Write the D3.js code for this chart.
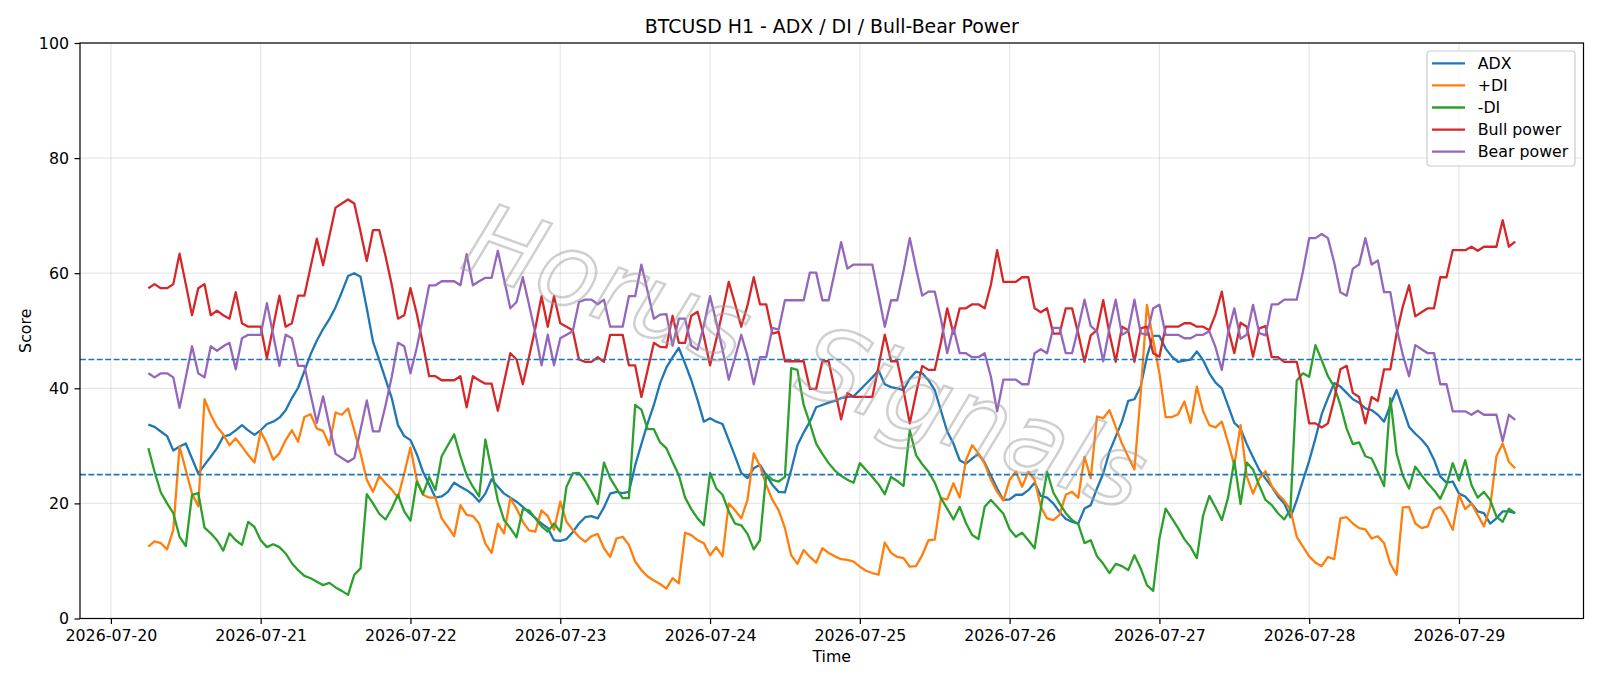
<!DOCTYPE html>
<html><head><meta charset="utf-8">
<script src="https://cdn.jsdelivr.net/npm/d3@7"></script>
<style>
body{margin:0;background:#fff;}
svg{display:block;font-family:"DejaVu Sans",sans-serif;}
</style></head><body>
<svg id="c" width="1600" height="686"></svg>
<script>
const startTime = "2026-07-20T06:00:00Z";
const endTime = "2026-07-29T09:00:00Z";
const title = "BTCUSD H1 - ADX / DI / Bull-Bear Power";
const xLabel = "Time";
const yLabel = "Score";
const watermarkText = "Horus Signals";
const seriesNames = ["ADX", "+DI", "-DI", "Bull power", "Bear power"];
const seriesColors = ["#1f77b4", "#ff7f0e", "#2ca02c", "#d62728", "#9467bd"];
const yTicks = [0, 20, 40, 60, 80, 100];
const refLevels = [45, 25];

const adx = [33.7,33.3,32.5,31.7,29.2,29.9,30.4,27.8,25.2,26.7,28.1,29.6,31.6,31.9,32.7,33.6,32.7,31.9,32.7,33.8,
34.2,34.9,36.2,38.3,40.1,43.0,45.9,48.3,50.3,52.0,54.1,56.7,59.5,60.0,59.4,53.9,48.1,44.9,41.6,38.3,
33.6,31.7,31.0,28.6,25.5,23.3,21.0,21.2,22.0,23.6,22.9,22.3,21.5,20.3,21.7,24.2,22.9,21.7,21.0,20.3,
19.4,18.4,17.5,16.5,15.7,13.6,13.5,13.8,15.0,16.5,17.6,17.8,17.4,19.3,21.7,22.0,21.8,22.0,26.6,30.3,
33.9,37.1,40.9,43.6,45.4,47.0,44.3,41.4,38.0,34.2,34.8,34.2,33.8,31.0,28.2,25.3,24.4,26.1,26.7,24.9,
23.2,22.0,21.9,25.8,30.1,32.3,34.2,36.7,37.1,37.5,37.8,38.3,38.5,38.6,39.7,40.8,41.9,43.1,40.7,40.2,
40.0,39.7,41.7,42.9,42.6,41.4,39.7,36.1,32.5,30.4,27.5,26.9,27.8,28.6,27.1,24.8,22.6,20.6,20.7,21.5,
21.5,22.3,23.6,21.3,21.0,20.0,18.5,17.3,16.8,16.5,19.1,19.7,22.6,25.2,29.0,31.6,34.2,37.8,38.1,40.3,
45.5,49.1,49.1,46.9,45.5,44.6,44.8,45.0,46.4,44.9,42.6,41.0,40.0,37.0,34.0,33.0,30.3,28.0,25.8,24.3,
22.9,21.2,20.0,17.6,20.5,24.0,27.4,31.3,35.5,38.3,40.9,40.3,39.2,38.1,37.5,36.5,36.2,35.4,34.2,37.1,
39.7,36.5,33.3,32.1,31.1,29.8,27.6,24.7,23.6,23.8,21.7,21.2,20.0,18.6,18.3,16.5,17.4,18.6,18.6,18.3];

const plusDI = [12.5,13.4,13.1,12.0,15.4,29.9,25.8,21.7,19.5,38.1,35.4,33.3,32.0,30.1,31.3,29.9,28.4,27.1,32.5,30.4,
27.6,28.7,31.0,32.7,30.7,35.0,35.5,33.0,32.6,30.1,35.8,35.4,36.5,32.7,28.7,24.1,22.0,24.8,23.5,22.4,
21.0,25.2,29.7,24.1,21.5,21.0,21.0,17.4,15.9,14.3,19.7,18.0,17.8,16.5,13.0,11.4,16.5,14.8,20.9,19.1,
16.8,15.3,15.1,18.8,17.8,15.4,20.3,16.8,15.4,14.2,13.3,14.3,14.7,12.2,10.7,13.9,14.2,12.8,9.9,8.4,
7.3,6.6,6.0,5.2,7.0,6.1,14.9,14.5,13.6,13.1,11.0,12.4,10.8,20.0,18.8,17.4,20.6,28.7,26.5,23.2,
20.6,18.8,15.7,11.0,9.5,11.9,10.7,9.7,12.2,11.4,10.8,10.3,10.2,9.9,9.0,8.3,7.9,7.6,13.2,11.4,
10.7,10.5,9.0,9.1,11.0,13.6,13.7,20.9,20.7,23.5,21.0,27.5,30.1,28.7,26.9,24.1,22.0,20.5,24.1,25.5,
22.9,25.5,24.1,19.4,17.4,17.1,18.0,21.5,22.0,21.0,28.1,24.4,35.1,34.8,36.2,33.3,30.4,28.1,25.9,39.1,
54.5,48.4,42.6,35.0,35.0,35.5,37.7,34.0,40.3,36.0,33.6,33.2,34.2,30.6,26.6,33.6,24.7,21.7,24.3,25.6,
23.0,21.6,20.5,18.9,14.2,12.5,10.8,9.7,9.1,10.7,10.3,17.4,17.6,16.5,15.7,15.5,13.9,14.3,13.1,9.5,
7.6,19.3,19.4,16.5,15.7,16.0,18.9,19.4,17.7,15.4,21.5,19.0,20.0,18.0,16.0,19.4,28.2,30.4,27.2,26.1];

const minusDI = [29.6,25.5,21.9,20.0,18.3,14.2,12.6,21.5,21.8,15.8,14.8,13.6,11.8,14.8,13.6,12.8,16.8,15.9,13.6,12.4,
12.9,12.4,11.3,9.6,8.4,7.4,7.0,6.4,5.8,6.2,5.4,4.8,4.1,7.6,8.7,21.6,20.0,18.2,17.2,19.1,
21.5,18.6,17.0,23.8,21.6,24.6,22.3,28.2,30.1,32.0,28.2,24.9,22.9,21.2,31.1,25.8,20.5,17.1,15.7,14.1,
19.0,18.8,17.4,16.0,15.1,16.5,15.1,22.9,25.2,25.3,23.9,22.0,19.9,27.1,24.4,22.6,20.9,20.9,37.1,36.3,
32.9,32.9,30.6,29.6,27.2,24.9,21.0,19.0,17.4,16.2,25.3,22.6,21.5,18.6,16.5,16.2,14.7,12.0,13.6,25.1,
24.1,23.8,24.6,43.5,43.2,37.1,33.9,30.4,28.6,27.0,25.7,24.8,24.1,23.6,27.0,25.8,24.6,23.3,21.6,24.6,
23.9,23.0,32.7,28.4,26.8,25.5,23.6,20.9,19.1,17.2,19.4,16.6,14.5,13.8,19.4,20.6,19.4,18.2,15.5,14.2,
14.9,13.6,12.2,19.1,25.5,21.9,20.0,18.3,17.1,16.4,13.1,13.6,10.8,9.5,7.9,9.5,9.1,8.4,11.0,8.7,
5.8,4.8,13.9,19.1,17.4,15.7,13.8,12.4,10.5,17.9,21.3,19.3,17.1,21.0,27.4,19.9,27.1,25.9,23.1,20.6,
19.7,18.3,17.2,19.0,41.3,42.6,42.0,47.5,44.9,42.1,40.3,37.1,33.0,30.3,30.6,28.2,27.8,25.5,23.0,38.3,
28.7,24.8,22.6,26.4,24.9,23.5,22.3,20.8,23.2,27.0,24.0,27.5,23.2,21.0,22.0,20.6,17.7,16.8,19.1,18.3];

const bullPower = [57.4,58.1,57.4,57.4,58.1,63.4,58.1,52.7,57.4,58.1,52.7,53.5,52.7,52.1,56.7,51.3,50.7,50.7,50.7,45.2,
50.7,56.1,50.7,51.3,56.1,56.1,61.1,66.0,61.4,66.4,71.4,72.1,72.8,72.1,67.2,62.1,67.5,67.5,63.0,58.0,
52.1,52.7,57.4,53.0,47.7,42.1,42.1,41.4,41.4,41.4,42.1,36.7,42.1,41.4,40.8,40.8,36.1,41.1,46.1,45.0,
40.7,45.5,50.4,56.0,50.7,56.0,51.3,50.7,50.1,45.0,44.6,44.6,45.4,44.6,49.3,49.3,49.3,44.0,44.0,38.5,
43.2,47.9,47.2,47.1,52.6,47.9,47.9,52.6,53.3,49.1,44.0,48.5,53.3,58.5,54.7,50.7,54.4,59.3,54.6,54.6,
49.5,49.8,44.7,44.7,44.7,44.7,39.9,39.9,44.7,44.7,39.7,34.6,39.2,38.5,38.5,38.5,38.5,43.8,49.3,44.7,
44.7,39.6,33.9,39.1,43.9,43.2,43.2,48.0,53.9,49.5,53.9,53.9,54.6,54.6,53.9,58.0,64.0,58.5,58.5,58.5,
59.3,59.3,53.9,53.2,53.9,49.5,49.5,53.9,53.9,49.5,44.6,49.2,50.1,55.3,49.5,44.6,50.7,50.1,44.6,50.4,
50.7,46.1,45.5,50.7,50.7,50.7,51.3,51.3,50.7,50.7,50.1,52.9,56.8,50.4,46.1,51.4,50.7,45.5,50.4,50.8,
45.4,45.4,44.6,44.6,44.6,39.7,33.9,33.9,33.2,33.9,38.1,43.3,43.9,39.2,38.5,33.9,38.5,37.8,43.3,43.3,
49.5,54.2,57.9,52.5,53.2,53.9,53.9,59.3,59.3,64.0,64.0,64.0,64.6,63.9,64.6,64.6,64.6,69.2,64.6,65.5];

const bearPower = [42.6,41.9,42.6,42.6,41.9,36.6,41.9,47.3,42.6,41.9,47.3,46.5,47.3,47.9,43.3,48.7,49.3,49.3,49.3,54.8,
49.3,43.9,49.3,48.7,43.9,43.9,38.9,34.0,38.6,33.6,28.6,27.9,27.2,27.9,32.8,37.9,32.5,32.5,37.0,42.0,
47.9,47.3,42.6,47.0,52.3,57.9,57.9,58.6,58.6,58.6,57.9,63.3,57.9,58.6,59.2,59.2,63.9,58.9,53.9,55.0,
59.3,54.5,49.6,44.0,49.3,44.0,48.7,49.3,49.9,55.0,55.4,55.4,54.6,55.4,50.7,50.7,50.7,56.0,56.0,61.5,
56.8,52.1,52.8,52.9,47.4,52.1,52.1,47.4,46.7,50.9,56.0,51.5,46.7,41.5,45.3,49.3,45.6,40.7,45.4,45.4,
50.5,50.2,55.3,55.3,55.3,55.3,60.1,60.1,55.3,55.3,60.3,65.4,60.8,61.5,61.5,61.5,61.5,56.2,50.7,55.3,
55.3,60.4,66.1,60.9,56.1,56.8,56.8,52.0,46.1,50.5,46.1,46.1,45.4,45.4,46.1,42.0,36.0,41.5,41.5,41.5,
40.7,40.7,46.1,46.8,46.1,50.5,50.5,46.1,46.1,50.5,55.4,50.8,49.9,44.7,50.5,55.4,49.3,49.9,55.4,49.6,
49.3,53.9,54.5,49.3,49.3,49.3,48.7,48.7,49.3,49.3,49.9,47.1,43.2,49.6,53.9,48.6,49.3,54.5,49.6,49.2,
54.6,54.6,55.4,55.4,55.4,60.3,66.1,66.1,66.8,66.1,61.9,56.7,56.1,60.8,61.5,66.1,61.5,62.2,56.7,56.7,
50.5,45.8,42.1,47.5,46.8,46.1,46.1,40.7,40.7,36.0,36.0,36.0,35.4,36.1,35.4,35.4,35.4,30.8,35.4,34.5];

const seriesValues = [adx, plusDI, minusDI, bullPower, bearPower];

const svg = d3.select("#c");
const L = 80, R = 1583.5, T = 43, B = 618.5;
const FS = 15.8;

const t0 = new Date(startTime), t1 = new Date(endTime);
const times = d3.utcHour.range(t0, d3.utcHour.offset(t1, 1));
const span = t1 - t0;
const x = d3.scaleUtc()
  .domain([new Date(+t0 - 0.05 * span), new Date(+t1 + 0.05 * span)])
  .range([L, R]);
const y = d3.scaleLinear().domain([0, 100]).range([B, T]);
const dayTicks = d3.utcDay.range(d3.utcDay.ceil(x.domain()[0]), x.domain()[1]);

svg.append("rect").attr("width", 1600).attr("height", 686).attr("fill", "#fff");

// grid
const grid = svg.append("g").attr("stroke", "#b0b0b0").attr("stroke-opacity", 0.3).attr("stroke-width", 1.2);
grid.selectAll("line.gx").data(dayTicks).join("line")
  .attr("x1", d => x(d)).attr("x2", d => x(d)).attr("y1", T).attr("y2", B);
grid.selectAll("line.gy").data(yTicks).join("line")
  .attr("x1", L).attr("x2", R).attr("y1", d => y(d)).attr("y2", d => y(d));

// series
const line = d3.line().x((d, i) => x(times[i])).y(d => y(d));
const plot = svg.append("g");
plot.selectAll("path").data(seriesValues).join("path")
  .attr("d", d => line(d))
  .attr("fill", "none")
  .attr("stroke", (d, i) => seriesColors[i])
  .attr("stroke-width", 2.3)
  .attr("stroke-linejoin", "round");

// reference lines
svg.append("g").selectAll("line").data(refLevels).join("line")
  .attr("x1", L).attr("x2", R).attr("y1", d => y(d)).attr("y2", d => y(d))
  .attr("stroke", "#1f77b4").attr("stroke-width", 1.6).attr("stroke-dasharray", "5.9,2.5");

// watermark (outlined, translucent)
svg.append("text")
  .attr("transform", "translate(806,357) rotate(20)")
  .attr("text-anchor", "middle").attr("dominant-baseline", "central")
  .attr("font-size", 100).attr("font-style", "italic").attr("word-spacing", 30)
  .attr("fill", "none").attr("stroke", "#a0a0a0").attr("stroke-opacity", 0.5).attr("stroke-width", 2.4)
  .text(watermarkText);

// axes
const xAxis = svg.append("g").attr("transform", `translate(0,${B})`)
  .call(d3.axisBottom(x).tickValues(dayTicks).tickFormat(d3.utcFormat("%Y-%m-%d"))
    .tickSize(5.5).tickPadding(5.3).tickSizeOuter(0));
const yAxis = svg.append("g").attr("transform", `translate(${L},0)`)
  .call(d3.axisLeft(y).tickValues(yTicks).tickSize(5.5).tickPadding(5.5).tickSizeOuter(0));
[xAxis, yAxis].forEach(g => {
  g.select(".domain").remove();
  g.attr("font-family", "DejaVu Sans, sans-serif").attr("font-size", FS);
  g.selectAll(".tick line").attr("stroke", "#000").attr("stroke-width", 1.2);
  g.selectAll(".tick text").attr("fill", "#000");
});

// frame
svg.append("rect").attr("x", L).attr("y", T).attr("width", R - L).attr("height", B - T)
  .attr("fill", "none").attr("stroke", "#000").attr("stroke-width", 1.2);

// labels
svg.append("text").attr("x", (L + R) / 2).attr("y", 33).attr("text-anchor", "middle")
  .attr("font-size", 18.9).text(title);
svg.append("text").attr("x", (L + R) / 2).attr("y", 662).attr("text-anchor", "middle")
  .attr("font-size", FS).text(xLabel);
svg.append("text").attr("transform", `translate(31.3,${(T + B) / 2}) rotate(-90)`)
  .attr("text-anchor", "middle").attr("font-size", FS).text(yLabel);

// legend
const lg = svg.append("g");
lg.append("rect").attr("x", 1427).attr("y", 51).attr("width", 148).attr("height", 115)
  .attr("rx", 3.2).attr("fill", "#fff").attr("fill-opacity", 0.8)
  .attr("stroke", "#cccccc").attr("stroke-width", 1.2);
const items = lg.selectAll("g.item").data(seriesNames).join("g")
  .attr("transform", (d, i) => `translate(0,${63.3 + i * 22.1})`);
items.append("line").attr("x1", 1432).attr("x2", 1465).attr("y1", 0).attr("y2", 0)
  .attr("stroke", (d, i) => seriesColors[i]).attr("stroke-width", 2.3);
items.append("text").attr("x", 1477.7).attr("y", 0).attr("dy", "0.36em")
  .attr("font-size", FS).text(d => d);
</script>
</body></html>
